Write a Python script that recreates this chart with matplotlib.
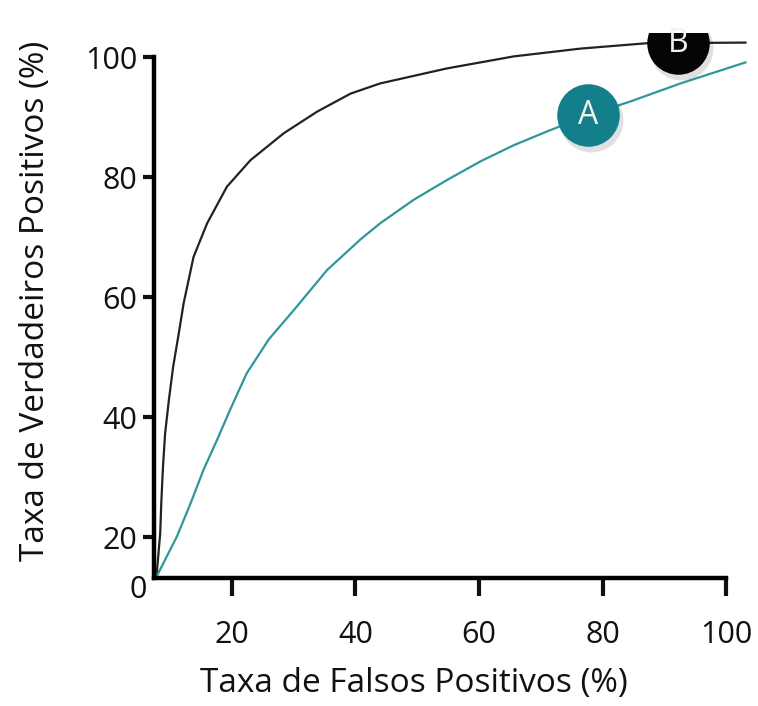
import matplotlib
matplotlib.use("Agg")
import matplotlib.pyplot as plt

# curva B (preta)
b_x = [7.8, 8.4, 8.6, 8.85, 9.2, 9.8, 10.5, 11.4, 12.2, 13.8, 16.0, 19.2, 23.0,
       28.4, 33.8, 39.2, 44.0, 54.8, 65.6, 76.4, 87.2, 103.1]
b_y = [13.4, 20.6, 26.2, 31.7, 37.3, 42.8, 48.4, 53.9, 59.0, 66.7, 72.3, 78.4, 82.8,
       87.3, 90.9, 93.9, 95.6, 98.1, 100.1, 101.4, 102.3, 102.4]

# curva A (azul-petróleo)
a_x = [7.8, 11.1, 13.3, 15.4, 17.6, 19.7, 22.4, 26.0, 30.0, 35.4, 40.8,
       44.0, 49.4, 54.8, 60.2, 65.6, 71.0, 77.7, 84.5, 92.6, 103.1]
a_y = [13.4, 20.1, 25.6, 31.2, 36.2, 41.2, 47.3, 53.0, 57.8, 64.5, 69.6,
       72.3, 76.2, 79.5, 82.6, 85.3, 87.6, 90.3, 92.6, 95.6, 99.1]

# rótulos das curvas
labels = ["A", "B"]
label_x = [77.7, 92.2]
label_y = [90.3, 102.3]

x_ticks = [20, 40, 60, 80, 100]
y_ticks = [20, 40, 60, 80, 100]

plt.rcParams['font.family'] = ['Open Sans', 'DejaVu Sans']

fig = plt.figure(figsize=(7.58, 7.06), dpi=100)
ax = fig.add_axes([154 / 758, 1 - 578 / 706, (751 - 154) / 758, (578 - 33) / 706])

xmin, ymin = 7.4, 13.2
ax.set_xlim(xmin, 104)
ax.set_ylim(ymin, 104)

ax.plot(b_x, b_y, color="#222222", lw=1.6, zorder=2)
ax.plot(a_x, a_y, color="#2f9799", lw=1.6, zorder=2)

colors = ["#137f8a", "#050505"]
for lab, x, y, c in zip(labels, label_x, label_y, colors):
    # sombra leve
    ax.plot(x + 0.45, y - 0.8, "o", ms=46, color="#000000", alpha=0.12, mec="none", zorder=3)
    ax.plot(x, y, "o", ms=45, color=c, mec="none", zorder=4)
    ax.text(x, y, lab, color="#f2f2f2", fontsize=23, ha="center", va="center", zorder=5)

for s in ["top", "right"]:
    ax.spines[s].set_visible(False)
for s in ["left", "bottom"]:
    ax.spines[s].set_linewidth(3.2)
ax.spines["bottom"].set_bounds(xmin, 100)
ax.spines["left"].set_bounds(ymin, 100)

ax.set_xticks(x_ticks)
ax.set_yticks(y_ticks)
ax.tick_params(axis="x", length=13, width=3, labelsize=22, pad=17, colors="#111111")
ax.tick_params(axis="y", length=8, width=3, labelsize=22, pad=4, colors="#111111")
ax.text(-0.012, -0.022, "0", transform=ax.transAxes, fontsize=22, ha="right", va="center",
        color="#111111")

ax.set_xlabel("Taxa de Falsos Positivos (%)", fontsize=24, color="#111111")
ax.set_ylabel("Taxa de Verdadeiros Positivos (%)", fontsize=24, color="#111111")
ax.xaxis.set_label_coords(0.436, -0.163)
ax.yaxis.set_label_coords(-0.171, 0.508)

fig.savefig("out.png", dpi=100)
